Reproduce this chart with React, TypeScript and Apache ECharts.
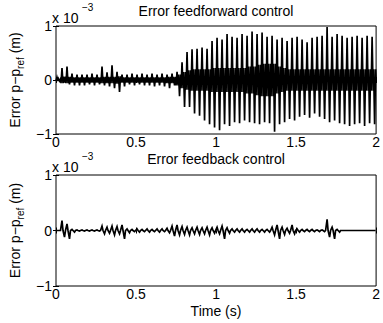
import React, { useEffect, useRef } from "react";
import * as echarts from "echarts";

// One entry per oscillation cycle (cycle length STEP seconds), values in units of 1e-3 m
const STEP = 0.03125;

const ffPeaks = [
  0.05, 0.22, 0.25, 0.12, 0.1, 0.1, 0.1, 0.12, 0.1, 0.25, 0.14, 0.27, 0.15, 0.1, 0.1, 0.12,
  0.1, 0.12, 0.1, 0.12, 0.1, 0.12, 0.1, 0.12, 0.15, 0.33, 0.52, 0.57, 0.58, 0.6, 0.58, 0.72,
  0.78, 0.75, 0.85, 0.8, 0.78, 0.85, 0.82, 0.9, 0.85, 0.88, 0.8, 0.82, 0.75, 0.78, 0.72, 0.78,
  0.8, 0.75, 0.7, 0.78, 0.8, 0.82, 0.98, 0.8, 0.85, 0.82, 0.78, 0.8, 0.82, 0.78, 0.82, 0.8,
];
const ffTroughs = [
  -0.02, -0.05, -0.08, -0.1, -0.1, -0.1, -0.08, -0.1, -0.08, -0.1, -0.12, -0.15, -0.22, -0.12, -0.08, -0.1,
  -0.08, -0.1, -0.1, -0.12, -0.1, -0.12, -0.15, -0.1, -0.3, -0.5, -0.5, -0.62, -0.66, -0.75, -0.82, -0.88,
  -0.93, -0.82, -0.85, -0.78, -0.8, -0.75, -0.78, -0.8, -0.82, -0.78, -0.8, -0.96, -0.82, -0.78, -0.72, -0.75,
  -0.68, -0.65, -0.7, -0.62, -0.68, -0.72, -0.78, -0.75, -0.8, -0.82, -0.85, -0.82, -0.8, -0.85, -0.8, -0.82,
];
const ffBand = [
  0.02, 0.06, 0.06, 0.05, 0.05, 0.05, 0.05, 0.05, 0.05, 0.06, 0.06, 0.06, 0.07, 0.05, 0.05, 0.05,
  0.05, 0.05, 0.05, 0.05, 0.05, 0.05, 0.06, 0.06, 0.1, 0.15, 0.18, 0.2, 0.2, 0.2, 0.2, 0.22,
  0.22, 0.22, 0.22, 0.22, 0.22, 0.22, 0.25, 0.25, 0.28, 0.3, 0.3, 0.3, 0.25, 0.22, 0.2, 0.2,
  0.2, 0.2, 0.2, 0.2, 0.2, 0.2, 0.2, 0.2, 0.2, 0.2, 0.2, 0.2, 0.2, 0.2, 0.2, 0.2,
];

const fbPeaks = [
  0.0, 0.18, 0.12, 0.02, 0.01, 0.01, 0.01, 0.01, 0.01, 0.08, 0.06, 0.08, 0.07, 0.1, 0.03, 0.02,
  0.03, 0.02, 0.03, 0.02, 0.03, 0.03, 0.04, 0.08, 0.1, 0.07, 0.06, 0.05, 0.06, 0.05, 0.06, 0.05,
  0.06, 0.08, 0.05, 0.03, 0.03, 0.03, 0.02, 0.03, 0.03, 0.02, 0.02, 0.06, 0.1, 0.06, 0.04, 0.1,
  0.03, 0.02, 0.02, 0.02, 0.01, 0.01, 0.2, 0.06, 0.02, 0, 0, 0, 0, 0, 0, 0,
];
const fbTroughs = [
  0.0, -0.12, -0.15, -0.03, -0.01, -0.01, -0.01, -0.01, -0.01, -0.06, -0.05, -0.08, -0.06, -0.15, -0.04, -0.02,
  -0.03, -0.02, -0.03, -0.02, -0.03, -0.02, -0.04, -0.1, -0.08, -0.07, -0.08, -0.06, -0.07, -0.06, -0.08, -0.05,
  -0.06, -0.15, -0.05, -0.03, -0.03, -0.03, -0.03, -0.03, -0.03, -0.03, -0.03, -0.08, -0.15, -0.07, -0.05, -0.06,
  -0.03, -0.02, -0.02, -0.02, -0.02, -0.02, -0.12, -0.15, -0.03, 0, 0, 0, 0, 0, 0, 0,
];

const xTicks = [0, 0.5, 1, 1.5, 2];
const yTicks = [-1, 0, 1];

const FONT = "'Liberation Sans', Arial, Helvetica, sans-serif";

function buildSignal(peaks: number[], troughs: number[], band: number[]) {
  const pts: number[][] = [];
  peaks.forEach((pk, i) => {
    const t0 = i * STEP;
    const b = band[i];
    pts.push([t0, -b]);
    pts.push([t0 + 0.2 * STEP, pk]);
    pts.push([t0 + 0.4 * STEP, -b]);
    pts.push([t0 + 0.5 * STEP, b]);
    pts.push([t0 + 0.7 * STEP, troughs[i]]);
    pts.push([t0 + 0.9 * STEP, b]);
  });
  pts.push([xTicks[xTicks.length - 1], 0]);
  return pts;
}

const fmtX = (v: number) => String(v);
const fmtY = (v: number) => (v < 0 ? "\u2212" + String(-v) : String(v));

export default function App() {
  const ref = useRef<HTMLDivElement>(null);
  useEffect(() => {
    if (!ref.current) return;
    const chart = echarts.init(ref.current, undefined, { renderer: "svg" });
    const grids = [
      { left: 52, top: 26, width: 328, height: 108 },
      { left: 52, top: 175, width: 328, height: 111 },
    ];
    const xAxisBase = (gi: number, pos: "bottom" | "top", labels: boolean) => ({
      type: "value" as const,
      gridIndex: gi,
      position: pos,
      min: xTicks[0],
      max: xTicks[xTicks.length - 1],
      interval: 0.5,
      axisLine: { show: false },
      axisTick: { show: true, inside: true, length: 3, lineStyle: { color: "#000", width: 1 } },
      splitLine: { show: false },
      axisLabel: {
        show: labels,
        formatter: fmtX,
        color: "#000",
        fontSize: 14,
        lineHeight: 12,
        fontFamily: FONT,
        margin: 2,
        showMaxLabel: true,
        showMinLabel: true,
      },
    });
    const yAxisBase = (gi: number, pos: "left" | "right", labels: boolean) => ({
      type: "value" as const,
      gridIndex: gi,
      position: pos,
      min: yTicks[0],
      max: yTicks[yTicks.length - 1],
      interval: 1,
      axisLine: { show: false },
      axisTick: { show: true, inside: true, length: 3, lineStyle: { color: "#000", width: 1 } },
      splitLine: { show: false },
      axisLabel: {
        show: labels,
        formatter: fmtY,
        color: "#000",
        fontSize: 14,
        lineHeight: 12,
        fontFamily: FONT,
        margin: 4,
      },
      ...(labels
        ? {
            name: "{n|Error p\u2212p}{s|ref}{n| (m)}",
            nameLocation: "middle" as const,
            nameRotate: 90,
            nameGap: 31,
            nameTextStyle: {
              color: "#000",
              fontFamily: FONT,
              rich: {
                n: { fontSize: 14, lineHeight: 20, fontFamily: FONT, color: "#000", verticalAlign: "middle" },
                s: { fontSize: 10, lineHeight: 10, fontFamily: FONT, color: "#000", verticalAlign: "bottom" },
              },
            },
          }
        : {}),
    });
    const txt = (x: number, y: number, text: string, size: number, align = "left") => ({
      type: "text",
      x,
      y,
      silent: true,
      style: {
        text,
        fill: "#000",
        fontSize: size,
        lineHeight: size,
        fontFamily: FONT,
        align,
        verticalAlign: "middle",
      },
    });
    const lineSeries = (axisIdx: number, data: number[][]) => ({
      type: "line",
      xAxisIndex: axisIdx,
      yAxisIndex: axisIdx,
      data,
      showSymbol: false,
      symbol: "none",
      lineStyle: { color: "#000", width: 1.7, join: "miter" },
      clip: true,
    });
    chart.setOption({
      animation: false,
      backgroundColor: "#fff",
      grid: grids.map((g) => ({
        ...g,
        show: true,
        borderColor: "#000",
        borderWidth: 1,
        backgroundColor: "#fff",
        containLabel: false,
      })),
      xAxis: [
        xAxisBase(0, "bottom", true),
        xAxisBase(0, "top", false),
        xAxisBase(1, "bottom", true),
        xAxisBase(1, "top", false),
      ],
      yAxis: [
        yAxisBase(0, "left", true),
        yAxisBase(0, "right", false),
        yAxisBase(1, "left", true),
        yAxisBase(1, "right", false),
      ],
      series: [
        lineSeries(0, buildSignal(ffPeaks, ffTroughs, ffBand)),
        lineSeries(2, buildSignal(fbPeaks, fbTroughs, fbPeaks.map(() => 0))),
      ],
      graphic: [
        txt(216, 11, "Error feedforward control", 14, "center"),
        txt(216, 159, "Error feedback control", 14, "center"),
        txt(52, 18, "x 10", 14),
        txt(82, 7, "\u22123", 10),
        txt(52, 167, "x 10", 14),
        txt(82, 156, "\u22123", 10),
        txt(216, 311, "Time (s)", 14, "center"),
      ],
    });
    return () => chart.dispose();
  }, []);
  return (
    <div
      ref={ref}
      style={{ position: "fixed", left: 0, top: 0, width: 383, height: 323, background: "#fff" }}
    />
  );
}
